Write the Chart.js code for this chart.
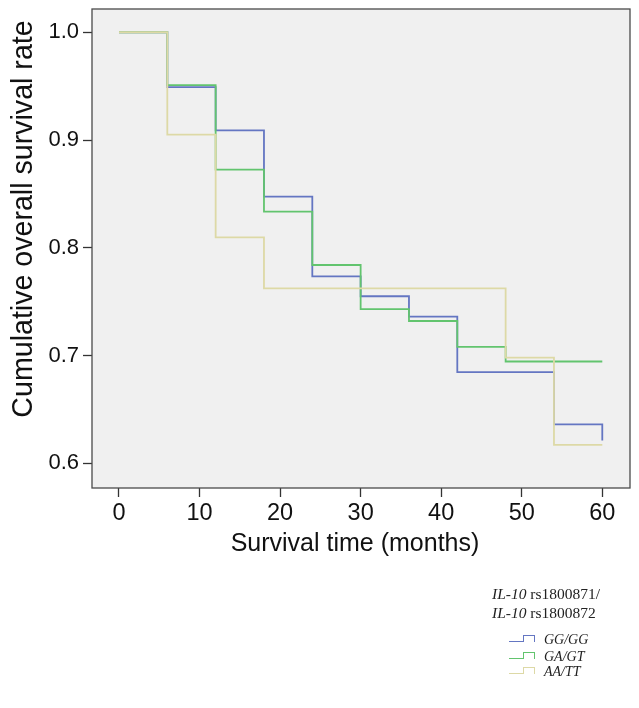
<!DOCTYPE html>
<html>
<head>
<meta charset="utf-8">
<script src="https://cdn.jsdelivr.net/npm/chart.js@4.4.1/dist/chart.umd.min.js"></script>
<style>
  html, body { margin: 0; padding: 0; background: #ffffff; }
  #wrap { position: relative; width: 639px; height: 708px; overflow: hidden; }
  #c { position: absolute; left: 0; top: 0; }
  .lg { position: absolute; font-family: "Liberation Serif", "Times New Roman", serif; color: #222; white-space: nowrap; }
  .lgt { font-size: 15.5px; line-height: 19px; }
  .lgi { font-size: 14px; font-style: italic; line-height: 16px; }
  .ico { position: absolute; width: 25px; height: 8px; }
  .ico .a { position: absolute; left: 0; bottom: 0; width: 14px; height: 0; border-bottom: 1.8px solid; }
  .ico .b { position: absolute; left: 14px; bottom: 0; width: 10px; height: 6px; border-top: 1.8px solid; border-left: 1.8px solid; border-right: 1.8px solid; border-bottom: none; }
</style>
</head>
<body>
<div id="wrap">
  <canvas id="c" width="639" height="708"></canvas>
  <div class="lg lgt" style="left:492px; top:584px;"><i>IL-10</i> rs1800871/</div>
  <div class="lg lgt" style="left:492px; top:603px;"><i>IL-10</i> rs1800872</div>

  <div class="ico" style="left:509px; top:634px; color:#6476c2;"><div class="a"></div><div class="b"></div></div>
  <div class="lg lgi" style="left:544px; top:632px;">GG/GG</div>

  <div class="ico" style="left:509px; top:651px; color:#62c46e;"><div class="a"></div><div class="b"></div></div>
  <div class="lg lgi" style="left:544px; top:649px;">GA/GT</div>

  <div class="ico" style="left:509px; top:666px; color:#ddd9a6;"><div class="a"></div><div class="b"></div></div>
  <div class="lg lgi" style="left:544px; top:664px;">AA/TT</div>
</div>
<script>
// ---- data ----
const months = [0, 6, 12, 18, 24, 30, 36, 42, 48, 54, 60];
const ggValues = [1.0, 0.949, 0.909, 0.8475, 0.7734, 0.755, 0.736, 0.6845, 0.6845, 0.636, 0.621];
const gaValues = [1.0, 0.951, 0.8725, 0.8336, 0.784, 0.743, 0.732, 0.708, 0.6944, 0.6944, 0.6944];
const aaValues = [1.0, 0.905, 0.8096, 0.7623, 0.7623, 0.7623, 0.7623, 0.7623, 0.698, 0.617, 0.617];
const seriesNames = ["GG/GG", "GA/GT", "AA/TT"];
const xTicks = [0, 10, 20, 30, 40, 50, 60];
const yTicks = [0.6, 0.7, 0.8, 0.9, 1.0];
const xTitle = "Survival time (months)";
const yTitle = "Cumulative overall survival rate";

function pts(vals) { return months.map((m, i) => ({ x: m, y: vals[i] })); }

const frame = {
  id: 'frame',
  beforeDatasetsDraw(chart) {
    const a = chart.chartArea, ctx = chart.ctx;
    ctx.save();
    ctx.fillStyle = '#f0f0f0';
    ctx.fillRect(a.left, a.top, a.right - a.left, a.bottom - a.top);
    ctx.restore();
  },
  afterDraw(chart) {
    const a = chart.chartArea, ctx = chart.ctx;
    ctx.save();
    ctx.strokeStyle = '#4a4a4a';
    ctx.lineWidth = 1.3;
    ctx.strokeRect(a.left, a.top, a.right - a.left, a.bottom - a.top);
    ctx.fillStyle = '#111';
    ctx.textAlign = 'center';
    ctx.textBaseline = 'middle';
    ctx.font = '25px "Liberation Sans", Arial, sans-serif';
    ctx.fillText(xTitle, 355, 544);
    ctx.translate(24, 219);
    ctx.rotate(-Math.PI / 2);
    ctx.font = '28.6px "Liberation Sans", Arial, sans-serif';
    ctx.fillText(yTitle, 0, 0);
    ctx.restore();
  }
};

new Chart(document.getElementById('c'), {
  type: 'line',
  data: {
    datasets: [
      { label: seriesNames[2], data: pts(aaValues), borderColor: '#ddd9a6', borderWidth: 1.8, stepped: true, pointRadius: 0, fill: false },
      { label: seriesNames[1], data: pts(gaValues), borderColor: '#62c46e', borderWidth: 1.8, stepped: true, pointRadius: 0, fill: false },
      { label: seriesNames[0], data: pts(ggValues), borderColor: '#6476c2', borderWidth: 1.8, stepped: true, pointRadius: 0, fill: false }
    ]
  },
  options: {
    responsive: false,
    animation: false,
    devicePixelRatio: 1,
    layout: { padding: { left: 0, top: 9, right: 9, bottom: 0 } },
    plugins: { legend: { display: false }, tooltip: { enabled: false } },
    scales: {
      x: {
        type: 'linear',
        min: -3.35, max: 63.44,
        afterBuildTicks(s) { s.ticks = xTicks.map(v => ({ value: v })); },
        afterFit(s) { s.height = 220; s.paddingLeft = 0; s.paddingRight = 0; },
        grid: { drawOnChartArea: false, drawTicks: true, tickLength: 9, tickColor: '#333', tickWidth: 1.3 },
        border: { display: false },
        ticks: { color: '#111', padding: 2, font: { family: '"Liberation Sans", Arial, sans-serif', size: 23.5 }, callback: v => String(v), maxRotation: 0, autoSkip: false }
      },
      y: {
        type: 'linear',
        min: 0.577, max: 1.0216,
        afterBuildTicks(s) { s.ticks = yTicks.map(v => ({ value: v })); },
        afterFit(s) { s.width = 92; s.paddingTop = 0; s.paddingBottom = 0; },
        grid: { drawOnChartArea: false, drawTicks: true, tickLength: 9, tickColor: '#333', tickWidth: 1.3 },
        border: { display: false },
        ticks: { color: '#111', padding: 4, font: { family: '"Liberation Sans", Arial, sans-serif', size: 22 }, callback: v => Number(v).toFixed(1), autoSkip: false }
      }
    }
  },
  plugins: [frame]
});
</script>
</body>
</html>
